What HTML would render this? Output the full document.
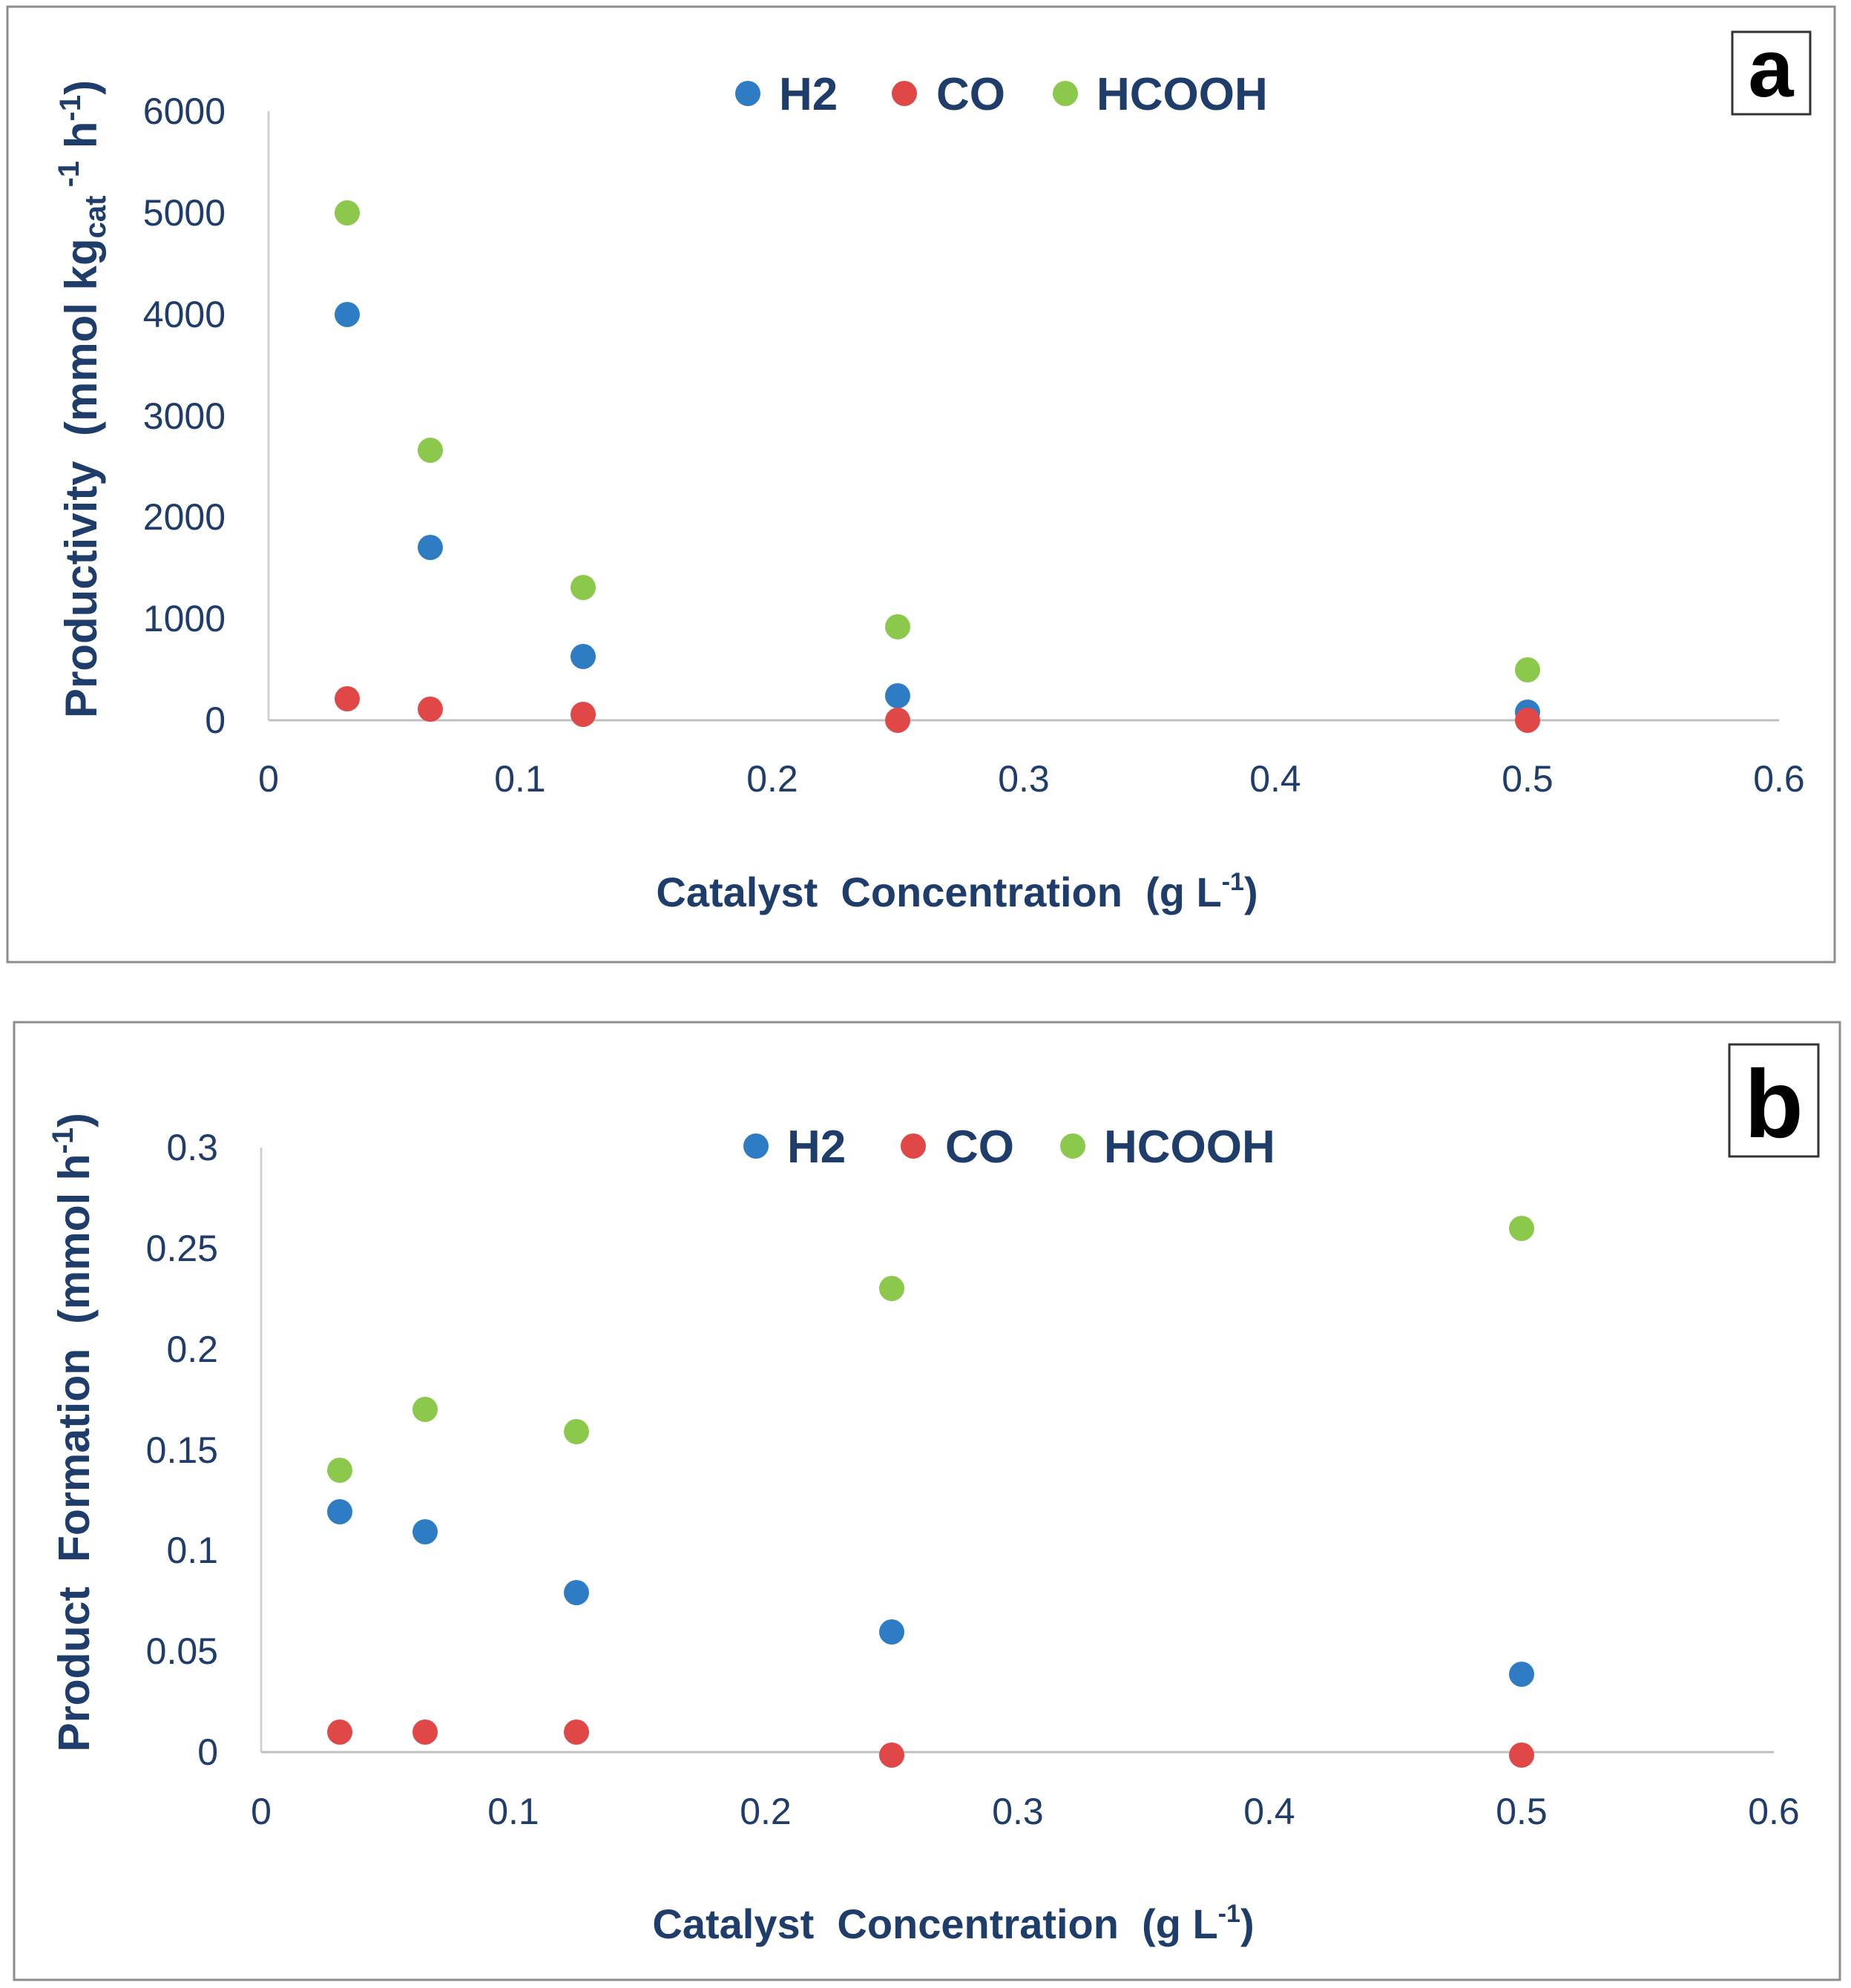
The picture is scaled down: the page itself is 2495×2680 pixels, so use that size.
<!DOCTYPE html>
<html><head><meta charset="utf-8"><style>
html,body{margin:0;padding:0;background:#fff}
svg{display:block}
text{font-family:"Liberation Sans",sans-serif;fill:#1f3d6b}
.t{font-size:50px}
.b{font-weight:bold}
</style></head><body>
<svg width="2495" height="2680" viewBox="0 0 2495 2680" xmlns="http://www.w3.org/2000/svg">
<rect x="10" y="9" width="2463" height="1288" fill="#fff" stroke="#8c8c8c" stroke-width="3"/>
<rect x="19" y="1378" width="2461" height="1291" fill="#fff" stroke="#8c8c8c" stroke-width="3"/>
<!-- Panel a -->
<rect x="2335" y="43" width="105" height="111" fill="#fff" stroke="#333" stroke-width="3"/>
<text x="2387" y="130" text-anchor="middle" style="font-size:110px;font-weight:bold;fill:#000">a</text>
<line x1="362" y1="150" x2="362" y2="971" stroke="#d0d0d0" stroke-width="3"/>
<line x1="362" y1="971" x2="2398" y2="971" stroke="#c0c0c0" stroke-width="3"/>
<g class="t" text-anchor="end">
<text x="304" y="988">0</text><text x="304" y="851">1000</text><text x="304" y="714">2000</text><text x="304" y="578">3000</text><text x="304" y="441">4000</text><text x="304" y="304">5000</text><text x="304" y="167">6000</text>
</g>
<g class="t" text-anchor="middle">
<text x="362" y="1067">0</text><text x="701" y="1067">0.1</text><text x="1041" y="1067">0.2</text><text x="1380" y="1067">0.3</text><text x="1719" y="1067">0.4</text><text x="2059" y="1067">0.5</text><text x="2398" y="1067">0.6</text>
</g>
<text x="1290" y="1222" text-anchor="middle" class="b" style="font-size:56px">Catalyst&#160; Concentration&#160; (g L<tspan dy="-22" style="font-size:34px">-1</tspan><tspan dy="22">)</tspan></text>
<text transform="translate(130,538) rotate(-90)" text-anchor="middle" class="b" style="font-size:60px">Productivity&#160; (mmol kg<tspan dy="12" style="font-size:40px">cat</tspan><tspan dy="-36" style="font-size:40px"> -1</tspan><tspan dy="24"> h</tspan><tspan dy="-22" style="font-size:40px">-1</tspan><tspan dy="22">)</tspan></text>
<g class="b" style="font-size:62px">
<circle cx="1008" cy="126" r="17" fill="#2e7dc4"/><text x="1050" y="148">H2</text>
<circle cx="1219" cy="126" r="17" fill="#e04848"/><text x="1262" y="148">CO</text>
<circle cx="1436" cy="126" r="17" fill="#8cc84b"/><text x="1478" y="148">HCOOH</text>
</g>
<g fill="#8cc84b"><circle cx="468" cy="287" r="17"/><circle cx="580" cy="607" r="17"/><circle cx="786" cy="792" r="17"/><circle cx="1210" cy="845" r="17"/><circle cx="2059" cy="903" r="17"/></g>
<g fill="#2e7dc4"><circle cx="468" cy="424" r="17"/><circle cx="580" cy="738" r="17"/><circle cx="786" cy="885" r="17"/><circle cx="1210" cy="938" r="17"/><circle cx="2059" cy="960" r="17"/></g>
<g fill="#e04848"><circle cx="468" cy="942" r="17"/><circle cx="580" cy="956" r="17"/><circle cx="786" cy="963" r="17"/><circle cx="1210" cy="971" r="17"/><circle cx="2059" cy="971" r="17"/></g>
<!-- Panel b -->
<rect x="2331" y="1408" width="120" height="151" fill="#fff" stroke="#333" stroke-width="3"/>
<text x="2391" y="1533" text-anchor="middle" style="font-size:130px;font-weight:bold;fill:#000">b</text>
<line x1="352" y1="1547" x2="352" y2="2362" stroke="#d0d0d0" stroke-width="3"/>
<line x1="352" y1="2362" x2="2391" y2="2362" stroke="#c0c0c0" stroke-width="3"/>
<g class="t" text-anchor="end">
<text x="294" y="2379">0</text><text x="294" y="2243">0.05</text><text x="294" y="2107">0.1</text><text x="294" y="1972">0.15</text><text x="294" y="1836">0.2</text><text x="294" y="1700">0.25</text><text x="294" y="1564">0.3</text>
</g>
<g class="t" text-anchor="middle">
<text x="352" y="2459">0</text><text x="692" y="2459">0.1</text><text x="1032" y="2459">0.2</text><text x="1372" y="2459">0.3</text><text x="1711" y="2459">0.4</text><text x="2051" y="2459">0.5</text><text x="2391" y="2459">0.6</text>
</g>
<text x="1285" y="2613" text-anchor="middle" class="b" style="font-size:56px">Catalyst&#160; Concentration&#160; (g L<tspan dy="-22" style="font-size:34px">-1</tspan><tspan dy="22">)</tspan></text>
<text transform="translate(120,1931) rotate(-90)" text-anchor="middle" class="b" style="font-size:59px">Product&#160; Formation&#160; (mmol h<tspan dy="-22" style="font-size:40px">-1</tspan><tspan dy="22">)</tspan></text>
<g class="b" style="font-size:62px">
<circle cx="1019" cy="1545" r="17" fill="#2e7dc4"/><text x="1061" y="1567">H2</text>
<circle cx="1231" cy="1545" r="17" fill="#e04848"/><text x="1274" y="1567">CO</text>
<circle cx="1446" cy="1545" r="17" fill="#8cc84b"/><text x="1488" y="1567">HCOOH</text>
</g>
<g fill="#8cc84b"><circle cx="458" cy="1982" r="17"/><circle cx="573" cy="1900" r="17"/><circle cx="777" cy="1930" r="17"/><circle cx="1202" cy="1737" r="17"/><circle cx="2051" cy="1656" r="17"/></g>
<g fill="#2e7dc4"><circle cx="458" cy="2038" r="17"/><circle cx="573" cy="2065" r="17"/><circle cx="777" cy="2147" r="17"/><circle cx="1202" cy="2200" r="17"/><circle cx="2051" cy="2257" r="17"/></g>
<g fill="#e04848"><circle cx="458" cy="2335" r="17"/><circle cx="573" cy="2335" r="17"/><circle cx="777" cy="2335" r="17"/><circle cx="1202" cy="2366" r="17"/><circle cx="2051" cy="2366" r="17"/></g>
</svg>
</body></html>
